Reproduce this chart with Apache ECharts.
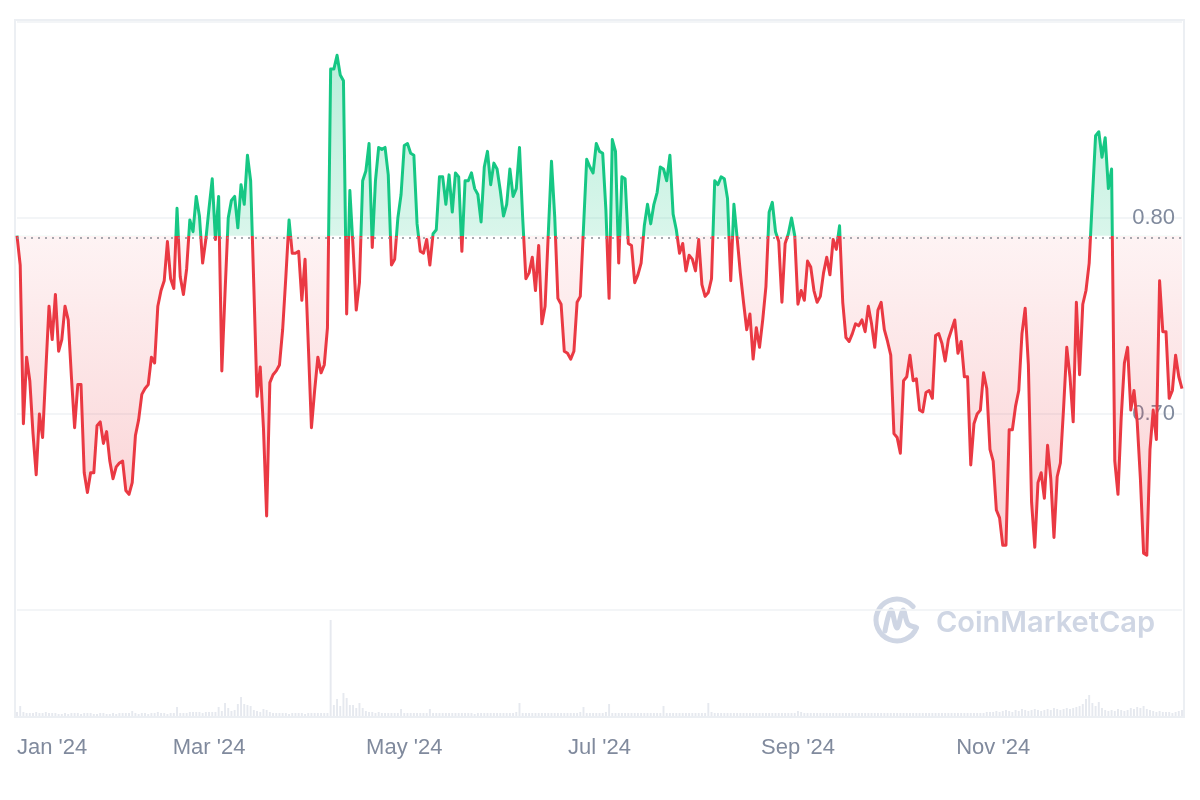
<!DOCTYPE html>
<html>
<head>
<meta charset="utf-8">
<script src="https://cdn.jsdelivr.net/npm/echarts@6/dist/echarts.min.js"></script>
<style>html,body{margin:0;padding:0;background:#fff}#c{width:1200px;height:800px}</style>
</head>
<body>
<div id="c"></div>
<script>
// ---- data ----
const startDate = '2024-01-01';
const prices = [
0.791,0.776,0.695,0.729,0.717,0.690,0.669,0.700,0.688,0.722,
0.755,0.738,0.761,0.732,0.738,0.755,0.748,0.719,0.693,0.715,
0.715,0.670,0.660,0.670,0.670,0.694,0.696,0.685,0.691,0.676,
0.667,0.673,0.675,0.676,0.661,0.659,0.665,0.689,0.697,0.710,
0.713,0.715,0.729,0.726,0.755,0.763,0.768,0.788,0.769,0.764,
0.805,0.770,0.761,0.774,0.799,0.793,0.811,0.801,0.777,0.789,
0.805,0.820,0.789,0.811,0.722,0.762,0.800,0.809,0.811,0.795,
0.817,0.807,0.832,0.819,0.765,0.709,0.724,0.693,0.648,0.716,
0.720,0.722,0.725,0.743,0.770,0.799,0.782,0.782,0.783,0.758,
0.779,0.736,0.693,0.712,0.729,0.721,0.725,0.744,0.876,0.876,
0.883,0.873,0.870,0.751,0.814,0.785,0.753,0.767,0.819,0.824,
0.838,0.785,0.819,0.836,0.835,0.836,0.822,0.776,0.779,0.800,
0.812,0.837,0.838,0.833,0.832,0.797,0.783,0.782,0.789,0.776,
0.792,0.794,0.821,0.821,0.807,0.822,0.803,0.823,0.821,0.783,
0.819,0.819,0.823,0.815,0.812,0.798,0.826,0.834,0.817,0.828,
0.825,0.814,0.801,0.807,0.825,0.811,0.815,0.836,0.800,0.769,
0.772,0.780,0.763,0.786,0.746,0.755,0.792,0.829,0.801,0.759,
0.756,0.732,0.731,0.728,0.732,0.757,0.760,0.795,0.830,0.826,
0.823,0.838,0.834,0.833,0.804,0.759,0.840,0.834,0.777,0.821,
0.820,0.787,0.786,0.767,0.771,0.777,0.796,0.807,0.797,0.807,
0.813,0.826,0.825,0.819,0.832,0.802,0.794,0.782,0.787,0.773,
0.781,0.779,0.773,0.789,0.766,0.760,0.762,0.769,0.819,0.817,
0.821,0.820,0.810,0.768,0.807,0.790,0.772,0.757,0.743,0.751,
0.728,0.744,0.734,0.748,0.765,0.803,0.808,0.793,0.788,0.757,
0.787,0.792,0.800,0.791,0.756,0.763,0.758,0.778,0.775,0.763,
0.757,0.760,0.772,0.780,0.771,0.789,0.784,0.796,0.757,0.739,
0.737,0.741,0.746,0.745,0.748,0.742,0.755,0.746,0.734,0.753,
0.757,0.743,0.737,0.730,0.690,0.688,0.680,0.717,0.719,0.730,
0.717,0.718,0.702,0.701,0.711,0.712,0.708,0.740,0.741,0.736,
0.727,0.738,0.743,0.748,0.731,0.737,0.719,0.719,0.674,0.695,
0.700,0.702,0.721,0.713,0.682,0.676,0.651,0.647,0.633,0.633,
0.692,0.692,0.704,0.712,0.741,0.754,0.725,0.655,0.632,0.665,
0.670,0.657,0.684,0.667,0.637,0.668,0.675,0.703,0.734,0.719,
0.696,0.757,0.720,0.756,0.763,0.777,0.810,0.842,0.844,0.831,
0.841,0.815,0.825,0.676,0.659,0.698,0.726,0.734,0.702,0.712,
0.696,0.667,0.629,0.628,0.682,0.702,0.687,0.768,0.742,0.742,
0.708,0.712,0.730,0.719,0.713
];
const volumes = [
4,10,4,3,3,3,4,3,3,4, 3,3,3,2,2,3,2,3,3,3, 2,3,3,3,2,2,3,3,2,2,
3,2,3,3,3,3,5,3,2,3, 3,2,3,3,4,3,3,2,3,3, 9,3,3,3,4,4,4,4,3,4,
4,4,4,9,5,13,8,5,6,12, 19,12,11,10,6,5,4,7,6,4, 3,3,3,3,3,2,3,3,3,3,
2,3,3,3,3,3,3,3,96,11, 17,10,23,18,11,11,8,13,8,5, 4,4,3,4,3,3,3,3,3,3,
7,3,3,3,3,3,3,3,3,7, 3,3,3,3,3,3,3,3,3,3, 3,3,3,2,3,3,3,3,3,3,
3,3,3,3,3,3,4,13,3,3, 3,3,3,3,3,3,3,3,3,3, 3,3,3,3,3,3,4,9,3,3,
3,3,3,3,4,12,3,3,3,3, 3,3,3,3,3,3,3,3,3,3, 3,3,10,3,3,3,3,3,3,3,
3,3,3,3,3,3,13,4,3,3, 3,3,3,3,3,3,3,3,3,3, 3,3,3,3,3,3,3,3,3,3,
3,3,3,3,5,4,3,3,3,3, 3,3,3,3,3,3,3,3,3,3, 3,3,3,3,3,3,3,3,3,3,
3,3,3,3,3,3,3,3,3,3, 3,3,3,3,3,3,3,3,3,3, 3,3,3,3,3,3,3,3,3,3,
3,3,3,4,4,4,5,4,5,6, 5,4,6,5,7,6,5,6,7,6, 5,6,7,6,8,7,6,7,8,7,
8,9,10,12,17,21,13,10,14,8, 6,5,6,5,7,6,5,6,8,7, 9,8,10,7,6,5,4,5,4,4,
4,3,4,5,6
];
const tickDates  = ['2024-01-01','2024-03-01','2024-05-01','2024-07-01','2024-09-01','2024-11-01'];
const tickLabels = ["Jan '24","Mar '24","May '24","Jul '24","Sep '24","Nov '24"];
const yMin = 0.6, yMax = 0.9, yStep = 0.1;
const baseline = prices[0];

// ---- build categories ----
const dates = [];
{
  const d = new Date(startDate + 'T00:00:00Z');
  for (let i = 0; i < prices.length; i++) {
    dates.push(d.toISOString().slice(0, 10));
    d.setUTCDate(d.getUTCDate() + 1);
  }
}

const GREEN = '#16c784', RED = '#ea3943';
const FONT = '"Liberation Sans", Arial, Helvetica, sans-serif';
const chart = echarts.init(document.getElementById('c'), null, {renderer: 'canvas'});

chart.setOption({
  animation: false,
  backgroundColor: '#ffffff',
  grid: [
    {left: 17, right: 18, top: 22, bottom: 190},
    {left: 17, right: 18, top: 620, bottom: 84}
  ],
  xAxis: [
    {type: 'category', gridIndex: 0, data: dates, boundaryGap: false, show: false},
    {type: 'category', gridIndex: 1, data: dates, boundaryGap: false,
     axisLine: {show: false}, axisTick: {show: false}, splitLine: {show: false},
     axisLabel: {
       interval: (idx, val) => tickDates.indexOf(val) >= 0,
       formatter: (val) => { const k = tickDates.indexOf(val); return k >= 0 ? tickLabels[k] : ''; },
       alignMinLabel: 'left',
       color: '#808a9d', fontSize: 22, fontFamily: FONT, margin: 21
     }}
  ],
  yAxis: [
    {type: 'value', gridIndex: 0, position: 'right', min: yMin, max: yMax, interval: yStep,
     axisLine: {show: false}, axisTick: {show: false},
     splitLine: {show: true, lineStyle: {color: '#eff2f5', width: 1.5}},
     axisLabel: {inside: true, margin: 7, showMinLabel: false, showMaxLabel: false,
       formatter: (v) => v.toFixed(2), color: '#808a9d', fontSize: 22, fontFamily: FONT}},
    {type: 'value', gridIndex: 1, show: false, min: 0, max: 'dataMax'}
  ],
  visualMap: {
    show: false, type: 'piecewise', seriesIndex: 0, dimension: 1,
    pieces: [{gte: 0, lt: baseline, color: RED}, {gte: baseline, lte: 2, color: GREEN}]
  },
  graphic: [
    {type: 'rect', silent: true, z: -10,
     shape: {x: 15, y: 20, width: 1169, height: 697},
     style: {fill: 'none', stroke: '#eceff3', lineWidth: 2}},
    {type: 'group', silent: true, z: 1, children: [
      {type: 'arc', shape: {cx: 897, cy: 620, r: 21, startAngle: 0.12 * Math.PI, endAngle: 1.78 * Math.PI, clockwise: true},
       style: {stroke: '#cfd6e4', lineWidth: 5, fill: 'none', lineCap: 'round'}},
      {type: 'polyline', shape: {points: [[885, 631], [891, 610], [897, 628], [903, 610], [908, 624], [915, 627]], smooth: 0.35},
       style: {stroke: '#cfd6e4', lineWidth: 5, fill: 'none', lineCap: 'round', lineJoin: 'round'}},
      {type: 'text', x: 936, y: 623,
       style: {text: 'CoinMarketCap', fill: '#cfd6e4', font: '600 29px Inter, "Liberation Sans", Arial, sans-serif',
               verticalAlign: 'middle'}}
    ]}
  ],
  series: [
    {id: 'price', type: 'line', xAxisIndex: 0, yAxisIndex: 0, data: prices,
     symbol: 'none', z: 3,
     lineStyle: {width: 3, join: 'round'},
     areaStyle: {origin: baseline, opacity: 1}},
    {id: 'vol', type: 'bar', xAxisIndex: 1, yAxisIndex: 1, data: volumes,
     barWidth: '60%', itemStyle: {color: '#e6e9ef'}, z: 1, silent: true},
    {id: 'base', type: 'line', xAxisIndex: 0, yAxisIndex: 0, data: [], z: 4,
     color: '#8c8f96',
     markLine: {silent: true, symbol: ['none', 'none'], label: {show: false},
       lineStyle: {color: '#8c8f96', type: [2, 5], width: 1.5, opacity: 1},
       data: [{yAxis: baseline}]}}
  ]
});

// gradient fill for the area, anchored to the pixel positions of the axis values
const yTop = chart.convertToPixel({yAxisIndex: 0}, Math.max(...prices));
const yBase = chart.convertToPixel({yAxisIndex: 0}, baseline);
const yBot = chart.convertToPixel({yAxisIndex: 0}, Math.min(...prices));
const t = (yBase - yTop) / (yBot - yTop);
chart.setOption({
  series: [{id: 'price', areaStyle: {origin: baseline, opacity: 1, color: {
    type: 'linear', x: 0, y: yTop, x2: 0, y2: yBot, global: true,
    colorStops: [
      {offset: 0, color: 'rgba(22,199,132,0.30)'},
      {offset: t, color: 'rgba(22,199,132,0.16)'},
      {offset: t, color: 'rgba(234,57,67,0.06)'},
      {offset: 1, color: 'rgba(234,57,67,0.24)'}
    ]}}}]
});
</script>
</body>
</html>
